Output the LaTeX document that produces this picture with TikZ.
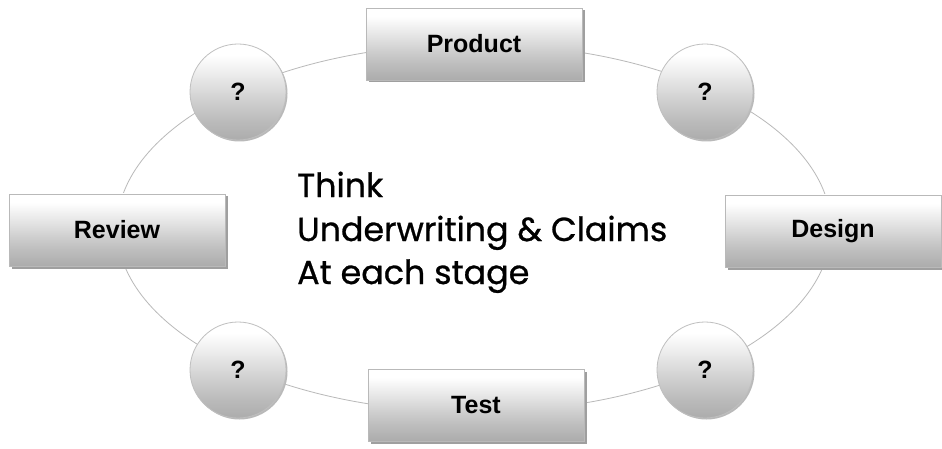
\documentclass[tikz,border=0pt]{standalone}
\usepackage{fontspec}
\setmainfont{Liberation Sans}
\newfontfamily\centrefont[FakeBold=0.8]{Poppins}
\usetikzlibrary{shadows}
% vertical shading: dark at the bottom, white at the top (path maps to 25bp..75bp)
\pgfdeclareverticalshading{stageshade}{100bp}{%
  color(0bp)=(gray!65); color(25bp)=(gray!65); color(36bp)=(gray!52);
  color(44bp)=(gray!40); color(55bp)=(gray!22); color(64bp)=(gray!8);
  color(69bp)=(white); color(100bp)=(white)}
\tikzset{
  stagebox/.style={rectangle, draw=gray!55, line width=0.8pt, shading=stageshade,
    minimum width=216pt, minimum height=72pt, inner sep=0pt,
    font=\fontsize{25}{25}\selectfont\bfseries,
    drop shadow={shadow xshift=2.5pt, shadow yshift=-2.5pt, fill=gray!75, opacity=1}},
  askball/.style={circle, draw=gray!50, line width=0.8pt, shading=stageshade,
    minimum size=96pt, inner sep=0pt,
    font=\fontsize{25}{25}\selectfont\bfseries,
    drop shadow={shadow xshift=1.5pt, shadow yshift=-1.5pt, fill=gray!55, opacity=1}},
  loopline/.style={draw=gray!55, line width=0.8pt},
  msgline/.style={anchor=base west, inner sep=0pt, font=\centrefont\fontsize{33.3}{33.3}\selectfont}
}
\begin{document}
\begin{tikzpicture}[x=1pt, y=-1pt]
\useasboundingbox (0,0) rectangle (942,449);
\fill[white] (0,0) rectangle (942,449);
% the cycle
\coordinate (hub) at (474,228);
\draw[loopline] (hub) ellipse [x radius=357, y radius=184];
% stages
\node[stagebox] (product) at (474,44) {Product};
\node[stagebox] (design) at (833,231) {Design};
\node[stagebox] (test) at (476,405) {Test};
\node[stagebox] (review) at (117,230) {Review};
% open questions between stages
\node[askball] (q1) at (238,92) {?};
\node[askball] (q2) at (705,92) {?};
\node[askball] (q3) at (238,370) {?};
\node[askball] (q4) at (705,370) {?};
% central message
\node[msgline] (msg1) at (297,197) {Think};
\node[msgline] (msg2) at (297,241) {Underwriting \& Claims};
\node[msgline] (msg3) at (297,284) {At each stage};
\end{tikzpicture}
\end{document}
